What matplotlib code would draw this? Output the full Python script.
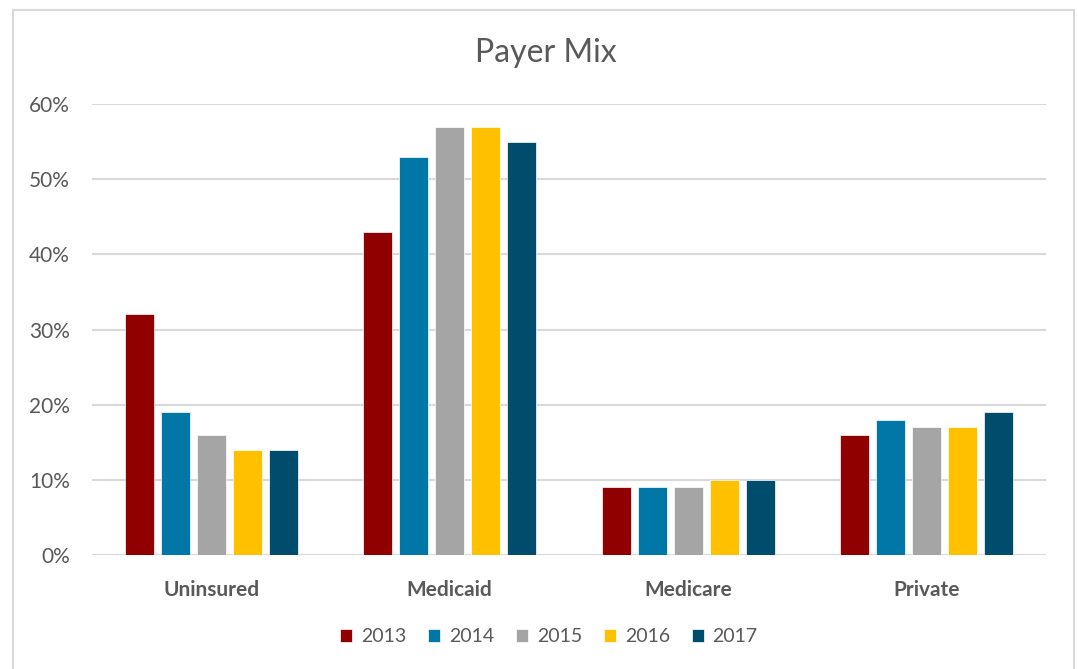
import matplotlib
matplotlib.use("Agg")
import matplotlib.pyplot as plt
import numpy as np
from matplotlib.patches import Rectangle
from matplotlib.ticker import FuncFormatter

plt.rcParams['font.family'] = ['Lato', 'DejaVu Sans']

# Data
categories = ["Uninsured", "Medicaid", "Medicare", "Private"]
years = ["2013", "2014", "2015", "2016", "2017"]
values = {
    "2013": [32, 43, 9, 16],
    "2014": [19, 53, 9, 18],
    "2015": [16, 57, 9, 17],
    "2016": [14, 57, 10, 17],
    "2017": [14, 55, 10, 19],
}
colors = ["#900000", "#0077A6", "#A5A5A5", "#FFC000", "#004C6D"]

text_color = "#595959"
grid_color = "#D9D9D9"

fig = plt.figure(figsize=(10.78, 6.69), dpi=100, facecolor="white")
# outer chart border
fig.patches.append(Rectangle((13 / 1078, -0.01), (1074 - 13) / 1078, 1 - 9.5 / 669 + 0.01,
                             transform=fig.transFigure, fill=False,
                             edgecolor=grid_color, linewidth=1.5))

ax = fig.add_axes([92 / 1078, 1 - 555 / 669, (1046 - 92) / 1078, (555 - 104) / 669])

x = np.arange(len(categories))
pitch = 0.151
width = 0.122
for i, yr in enumerate(years):
    ax.bar(x + (i - 2) * pitch, values[yr], width=width, color=colors[i],
           label=yr, zorder=3, edgecolor="white", linewidth=0.5)

ax.set_xlim(-0.5, 3.5)
ax.set_ylim(0, 60)
ax.set_yticks(range(0, 61, 10))
ax.yaxis.set_major_formatter(FuncFormatter(lambda v, p: f"{int(v)}%"))
ax.grid(axis="y", color=grid_color, linewidth=1.5, zorder=0)
ax.set_xticks(x)
ax.set_xticklabels(categories, fontweight="bold", fontsize=15)
for s in ax.spines.values():
    s.set_visible(False)
ax.tick_params(axis="both", length=0, colors=text_color)
ax.tick_params(axis="y", pad=16, labelsize=15)
ax.tick_params(axis="x", pad=18)
ax.set_clip_on(False)

fig.text(546 / 1078, 1 - 53 / 669, "Payer Mix", ha="center", va="center",
         fontsize=23, color=text_color)

leg = fig.legend(loc="center", bbox_to_anchor=(549 / 1078, 1 - 637 / 669), ncol=5,
                 frameon=False, fontsize=14, handlelength=0.6, handleheight=0.6,
                 handletextpad=0.45, columnspacing=1.15)
for t in leg.get_texts():
    t.set_color(text_color)

fig.savefig("out.png", dpi=100, facecolor="white")
